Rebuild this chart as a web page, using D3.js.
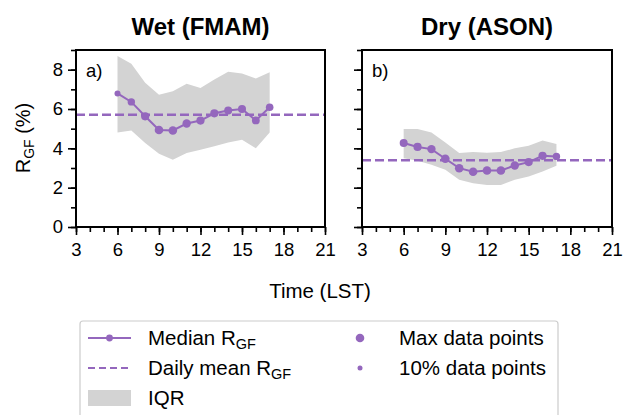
<!DOCTYPE html>
<html>
<head>
<meta charset="utf-8">
<script src="https://cdn.jsdelivr.net/npm/d3@7"></script>
<style>
  body { margin: 0; background: #fff; }
  svg { font-family: "Liberation Sans", Arial, Helvetica, sans-serif; }
</style>
</head>
<body>
<svg id="viz" width="623" height="415"></svg>
<script>
// hours (LST)
const hours = [6, 7, 8, 9, 10, 11, 12, 13, 14, 15, 16, 17];

// wet season (FMAM)
const wetMedian = [6.79, 6.36, 5.63, 4.93, 4.91, 5.26, 5.41, 5.78, 5.92, 6.00, 5.42, 6.09];
const wetQ75 = [8.69, 8.30, 7.33, 6.73, 6.90, 7.28, 7.07, 7.50, 7.89, 7.80, 7.55, 7.87];
const wetQ25 = [4.81, 4.91, 4.27, 3.72, 3.42, 3.76, 3.93, 4.10, 4.30, 4.44, 4.01, 4.81];
const wetMean = 5.71;
const wetShare = [0.35, 0.7, 0.9, 1.0, 1.0, 0.95, 0.9, 0.9, 0.85, 0.85, 0.8, 0.75];

// dry season (ASON)
const dryMedian = [4.27, 4.07, 3.96, 3.47, 2.99, 2.81, 2.87, 2.87, 3.13, 3.30, 3.62, 3.59];
const dryQ75 = [4.98, 4.98, 4.81, 4.30, 3.76, 3.81, 3.78, 3.81, 4.00, 4.13, 4.40, 4.22];
const dryQ25 = [3.50, 3.37, 3.16, 2.91, 2.40, 2.23, 2.14, 2.14, 2.40, 2.57, 2.82, 3.11];
const dryMean = 3.40;
const dryShare = [0.85, 0.9, 0.95, 1.0, 1.0, 1.0, 1.0, 1.0, 0.95, 0.9, 0.9, 0.7];

const xTicks = [3, 6, 9, 12, 15, 18, 21];
const yTicks = [0, 2, 4, 6, 8];

const purple = "#9467bd";
const iqrGrey = "#d3d3d3";

const svg = d3.select("#viz");

const plotTop = 50, plotBottom = 227;
const y = d3.scaleLinear().domain([0, 9]).range([plotBottom, plotTop]);
const r = d3.scaleLinear().domain([0.1, 1]).range([2.5, 4.3]);

function drawPanel(x0, x1, median, q25, q75, mean, share, title, tag, showY) {
  const x = d3.scaleLinear().domain([3, 21]).range([x0, x1]);
  const g = svg.append("g");
  const rows = hours.map((h, i) => ({ h, med: median[i], lo: q25[i], hi: q75[i], n: share[i] }));

  g.append("path")
    .datum(rows)
    .attr("fill", iqrGrey)
    .attr("d", d3.area().x(d => x(d.h)).y0(d => y(d.lo)).y1(d => y(d.hi)));

  g.append("line")
    .attr("x1", x0).attr("x2", x1)
    .attr("y1", y(mean)).attr("y2", y(mean))
    .attr("stroke", purple)
    .attr("stroke-width", 2.5)
    .attr("stroke-dasharray", "9,4");

  g.append("path")
    .datum(rows)
    .attr("fill", "none")
    .attr("stroke", purple)
    .attr("stroke-width", 2)
    .attr("d", d3.line().x(d => x(d.h)).y(d => y(d.med)));

  g.selectAll("circle")
    .data(rows)
    .enter()
    .append("circle")
    .attr("cx", d => x(d.h))
    .attr("cy", d => y(d.med))
    .attr("r", d => r(d.n))
    .attr("fill", purple);

  // axes
  const xMinor = g.append("g").attr("transform", `translate(0,${plotBottom})`)
    .call(d3.axisBottom(x).tickValues(d3.range(3, 22)).tickSize(5).tickFormat(""));
  const xMajor = g.append("g").attr("transform", `translate(0,${plotBottom})`)
    .call(d3.axisBottom(x).tickValues(xTicks).tickSize(8).tickPadding(8).tickFormat(d3.format("d")));
  const yMinor = g.append("g").attr("transform", `translate(${x0},0)`)
    .call(d3.axisLeft(y).tickValues(d3.range(0, 10)).tickSize(5).tickFormat(""));
  const yMajor = g.append("g").attr("transform", `translate(${x0},0)`)
    .call(d3.axisLeft(y).tickValues(yTicks).tickSize(8).tickPadding(5)
      .tickFormat(showY ? d3.format("d") : ""));

  [xMinor, xMajor, yMinor, yMajor].forEach(a => {
    a.select(".domain").remove();
    a.selectAll(".tick line").attr("stroke", "#000").attr("stroke-width", 1.6);
    a.selectAll(".tick text").attr("font-size", 18.5).attr("fill", "#000");
  });

  g.append("rect")
    .attr("x", x0).attr("y", plotTop)
    .attr("width", x1 - x0).attr("height", plotBottom - plotTop)
    .attr("fill", "none")
    .attr("stroke", "#000")
    .attr("stroke-width", 2);

  g.append("text")
    .attr("x", (x0 + x1) / 2)
    .attr("y", 35)
    .attr("text-anchor", "middle")
    .attr("font-size", 24)
    .attr("font-weight", "bold")
    .text(title);

  g.append("text")
    .attr("x", x0 + 10)
    .attr("y", 77)
    .attr("font-size", 18.5)
    .text(tag);
}

drawPanel(76, 325, wetMedian, wetQ25, wetQ75, wetMean, wetShare, "Wet (FMAM)", "a)", true);
drawPanel(362, 612, dryMedian, dryQ25, dryQ75, dryMean, dryShare, "Dry (ASON)", "b)", false);

// y label
const yl = svg.append("text")
  .attr("transform", "translate(30,138) rotate(-90)")
  .attr("text-anchor", "middle")
  .attr("font-size", 20);
yl.append("tspan").text("R");
yl.append("tspan").attr("font-size", 14).attr("dy", 4).text("GF");
yl.append("tspan").attr("dy", -4).text(" (%)");

// x label
svg.append("text")
  .attr("x", 320)
  .attr("y", 298)
  .attr("text-anchor", "middle")
  .attr("font-size", 20.5)
  .text("Time (LST)");

// legend
const lg = svg.append("g");
lg.append("rect")
  .attr("x", 80).attr("y", 321)
  .attr("width", 478).attr("height", 120)
  .attr("rx", 3)
  .attr("fill", "#fff")
  .attr("stroke", "#ccc")
  .attr("stroke-width", 1.2);

const rowY = [338, 368, 398];

lg.append("line")
  .attr("x1", 88).attr("x2", 131).attr("y1", rowY[0]).attr("y2", rowY[0])
  .attr("stroke", purple).attr("stroke-width", 2);
lg.append("circle").attr("cx", 109.5).attr("cy", rowY[0]).attr("r", 3.4).attr("fill", purple);

lg.append("line")
  .attr("x1", 88).attr("x2", 131).attr("y1", rowY[1]).attr("y2", rowY[1])
  .attr("stroke", purple).attr("stroke-width", 2).attr("stroke-dasharray", "7,4");

lg.append("rect")
  .attr("x", 88).attr("y", rowY[2] - 8).attr("width", 43).attr("height", 16)
  .attr("fill", iqrGrey);

function legendText(x, yy, main, sub) {
  const t = lg.append("text").attr("x", x).attr("y", yy + 7).attr("font-size", 20.5);
  t.append("tspan").text(main);
  if (sub) t.append("tspan").attr("font-size", 14.5).attr("dy", 4).text(sub);
}
legendText(148, rowY[0], "Median R", "GF");
legendText(148, rowY[1], "Daily mean R", "GF");
legendText(148, rowY[2], "IQR");

lg.append("circle").attr("cx", 360).attr("cy", rowY[0]).attr("r", r(1)).attr("fill", purple);
lg.append("circle").attr("cx", 360).attr("cy", rowY[1]).attr("r", r(0.1)).attr("fill", purple);
legendText(399, rowY[0], "Max data points");
legendText(399, rowY[1], "10% data points");
</script>
</body>
</html>
